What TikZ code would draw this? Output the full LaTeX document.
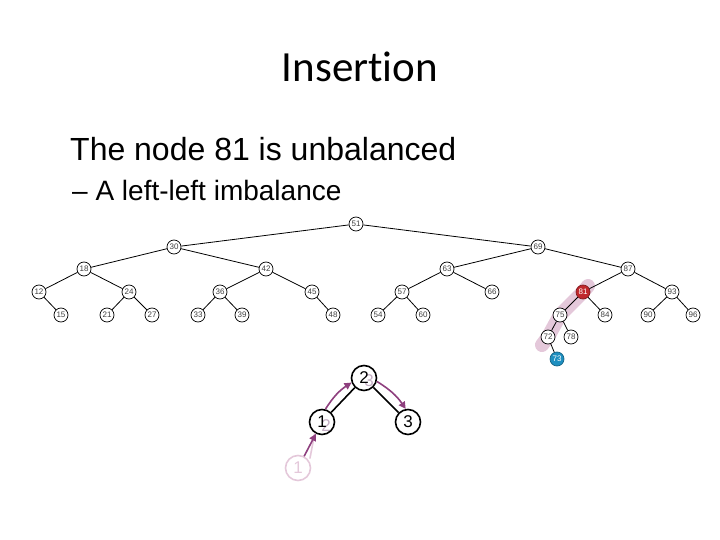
\documentclass[tikz,border=0pt]{standalone}
\usepackage{fontspec}
\setmainfont{Liberation Sans}
\newfontfamily\titlefont[Ligatures=NoCommon]{Carlito}
\usetikzlibrary{arrows.meta,backgrounds}
\definecolor{avlred}{HTML}{C0282D}
\definecolor{avlblue}{HTML}{1E8FC0}
\definecolor{bandpink}{HTML}{E4C8DA}
\definecolor{stepcol}{HTML}{8E3F7E}
\definecolor{ghostcol}{HTML}{C4AEC4}
\tikzset{
  tnode/.style={draw, circle, fill=white, line width=0.7pt, inner sep=0pt, minimum size=14pt,
    font=\fontsize{8}{8}\selectfont, text=black!75},
  tedge/.style={line width=0.8pt},
  bignode/.style={draw, circle, line width=1.6pt, inner sep=0pt, minimum size=25pt,
    font=\fontsize{17}{17}\selectfont},
  ghost/.style={inner sep=0pt, font=\fontsize{17}{17}\selectfont, text=ghostcol},
  stepline/.style={draw=stepcol, line width=1.6pt, -{Triangle[length=7pt,width=7pt]}}
}
\begin{document}
\begin{tikzpicture}[x=1pt,y=-1pt]
\useasboundingbox (0,0) rectangle (720,540);

\node[anchor=base, font=\titlefont\fontsize{43}{43}\selectfont] (title) at (360,82) {Insertion};
\node[anchor=base west, inner sep=0pt, font=\fontsize{32}{32}\selectfont] (line1) at (70,161) {The node 81 is unbalanced};
\node[anchor=base west, inner sep=0pt, font=\fontsize{28}{28}\selectfont] (line2) at (72,201) {\textendash\ A left-left imbalance};

\node[tnode] (n51) at (356,224) {51};
\node[tnode] (n30) at (174,247) {30};
\node[tnode] (n69) at (538,247) {69};
\node[tnode] (n18) at (84,269) {18};
\node[tnode] (n42) at (266,269) {42};
\node[tnode] (n63) at (447,269) {63};
\node[tnode] (n87) at (628,269) {87};
\node[tnode] (n12) at (39,292) {12};
\node[tnode] (n24) at (129,292) {24};
\node[tnode] (n36) at (220,292) {36};
\node[tnode] (n45) at (312,292) {45};
\node[tnode] (n57) at (402,292) {57};
\node[tnode] (n66) at (492,292) {66};
\node[tnode, fill=avlred, draw=avlred!70!black, text=white] (n81) at (583,292) {81};
\node[tnode] (n93) at (672,292) {93};
\node[tnode] (n15) at (61,315) {15};
\node[tnode] (n21) at (107,315) {21};
\node[tnode] (n27) at (152,315) {27};
\node[tnode] (n33) at (198,315) {33};
\node[tnode] (n39) at (242,315) {39};
\node[tnode] (n48) at (333,315) {48};
\node[tnode] (n54) at (378,315) {54};
\node[tnode] (n60) at (423,315) {60};
\node[tnode] (n75) at (560,315) {75};
\node[tnode] (n84) at (605,315) {84};
\node[tnode] (n90) at (648,315) {90};
\node[tnode] (n96) at (693,315) {96};
\node[tnode] (n72) at (548,337) {72};
\node[tnode] (n78) at (571,337) {78};
\node[tnode, fill=avlblue, draw=avlblue!70!black, text=white] (n73) at (557,359) {73};

\begin{scope}[on background layer]
\draw[bandpink, line width=14pt, line cap=round, line join=round]
  ([shift={(5,-6)}]n81.center) -- (n81.center) -- (n75.center) -- (n72.center) -- ([shift={(-6,8)}]n72.center);
\end{scope}

\draw[tedge] (n51) -- (n30);
\draw[tedge] (n51) -- (n69);
\draw[tedge] (n30) -- (n18);
\draw[tedge] (n30) -- (n42);
\draw[tedge] (n18) -- (n12);
\draw[tedge] (n18) -- (n24);
\draw[tedge] (n12) -- (n15);
\draw[tedge] (n24) -- (n21);
\draw[tedge] (n24) -- (n27);
\draw[tedge] (n42) -- (n36);
\draw[tedge] (n42) -- (n45);
\draw[tedge] (n36) -- (n33);
\draw[tedge] (n36) -- (n39);
\draw[tedge] (n45) -- (n48);
\draw[tedge] (n69) -- (n63);
\draw[tedge] (n69) -- (n87);
\draw[tedge] (n63) -- (n57);
\draw[tedge] (n63) -- (n66);
\draw[tedge] (n57) -- (n54);
\draw[tedge] (n57) -- (n60);
\draw[tedge] (n87) -- (n81);
\draw[tedge] (n87) -- (n93);
\draw[tedge] (n81) -- (n75);
\draw[tedge] (n81) -- (n84);
\draw[tedge] (n75) -- (n72);
\draw[tedge] (n75) -- (n78);
\draw[tedge] (n72) -- (n73);
\draw[tedge] (n93) -- (n90);
\draw[tedge] (n93) -- (n96);

\node[ghost] (g2) at (326,426) {2};
\node[ghost] (g3) at (369,381) {3};
\node[bignode] (s2) at (364,378) {2};
\node[bignode] (s1) at (322,422) {1};
\node[bignode] (s3) at (408,422) {3};
\node[bignode, draw=bandpink, text=bandpink] (f1) at (298,468) {1};

\draw[line width=1.6pt] (s2) -- (s1);
\draw[line width=1.6pt] (s2) -- (s3);

\draw[bandpink, line width=1.6pt, shorten >=2pt] ([xshift=2.5pt]f1.north east) -- ([xshift=2.5pt]s1.south west);
\draw[stepline] (f1) -- (s1);
\draw[stepline] (s1.75) to[bend left=12] (s2.200);
\draw[stepline] (s2.-15) to[bend left=12] (s3.100);
\end{tikzpicture}
\end{document}
